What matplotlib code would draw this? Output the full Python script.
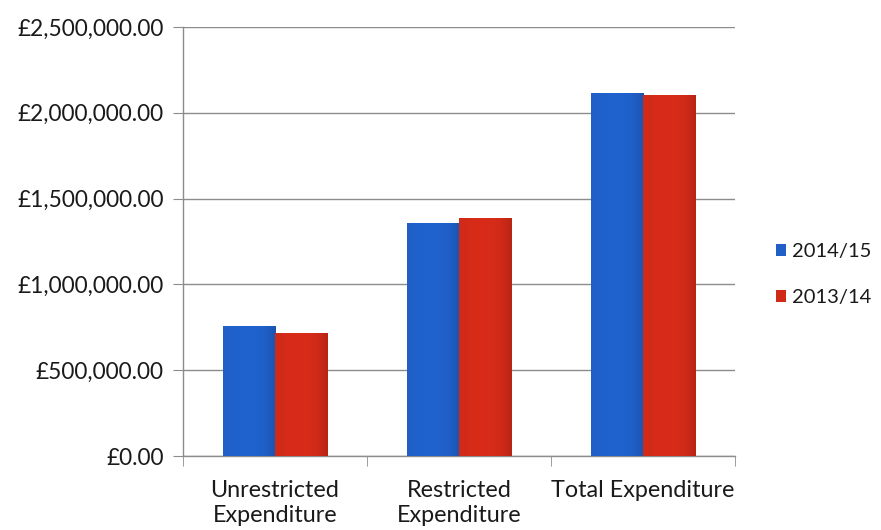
import numpy as np
import matplotlib
matplotlib.use("Agg")
import matplotlib.pyplot as plt
from matplotlib.ticker import FuncFormatter, MultipleLocator
from matplotlib.patches import Patch

plt.rcParams['font.family'] = ['Lato', 'DejaVu Sans']

categories = ["Unrestricted\nExpenditure", "Restricted\nExpenditure", "Total Expenditure"]
series_names = ["2014/15", "2013/14"]
values_2014_15 = [758000, 1358000, 2114000]
values_2013_14 = [717000, 1387000, 2106000]
colors = ["#1f5fc6", "#d02a18"]

fig = plt.figure(figsize=(8.81, 5.30), dpi=100)
ax = fig.add_axes([0.2077, 0.1396, 0.6266, 0.8094])

x = np.arange(len(categories))
width = 0.285

def shaded_bars(ax, xs, heights, color):
    # each bar gets a soft horizontal shade, darker toward its right edge
    base = np.array(matplotlib.colors.to_rgb(color))
    grad = np.linspace(0, 1, 64)
    shade = 1.0 + 0.04 * np.sin(np.pi * grad) - 0.12 * grad ** 6
    img = np.clip(base[None, :] * shade[:, None], 0, 1)[None, :, :]
    bars = ax.bar(xs, heights, width=width, color=color, zorder=3)
    for b in bars:
        x0, y0 = b.get_x(), b.get_y()
        im = ax.imshow(img, extent=(x0, x0 + b.get_width(), y0, y0 + b.get_height()),
                       aspect='auto', zorder=3.5, interpolation='bilinear')
        im.set_clip_path(b)
    return bars

shaded_bars(ax, x - width / 2, values_2014_15, colors[0])
shaded_bars(ax, x + width / 2, values_2013_14, colors[1])

ax.set_xlim(-0.5, len(categories) - 0.5)
ax.set_ylim(0, 2500000)
ax.yaxis.set_major_locator(MultipleLocator(500000))
ax.yaxis.set_major_formatter(FuncFormatter(lambda v, _: f"£{v:,.2f}"))
ax.grid(axis='y', color='#8c8c8c', linewidth=1.0, zorder=0)

ax.set_xticks(x)
ax.set_xticklabels(categories, fontsize=16.8, color='#1a1a1a', linespacing=1.28)
ax.tick_params(axis='x', length=0, pad=17)
ax.set_xticks(np.arange(-0.5, len(categories)), minor=True)
ax.tick_params(axis='x', which='minor', length=7, color='#8c8c8c', direction='out')
ax.tick_params(axis='y', length=7, color='#8c8c8c', labelsize=16.3, labelcolor='#1a1a1a', pad=7)

for side in ['top', 'right']:
    ax.spines[side].set_visible(False)
for side in ['left', 'bottom']:
    ax.spines[side].set_color('#8c8c8c')
    ax.spines[side].set_linewidth(1.0)

handles = [Patch(facecolor=c, label=n) for c, n in zip(colors, series_names)]
fig.legend(handles=handles, loc='center left', bbox_to_anchor=(0.881, 0.482),
           frameon=False, fontsize=14.5, handlelength=0.5, handleheight=0.5,
           handletextpad=0.3, labelspacing=1.45, labelcolor='#1a1a1a',
           borderpad=0, borderaxespad=0)

fig.savefig("out.png", dpi=100, facecolor='white')
